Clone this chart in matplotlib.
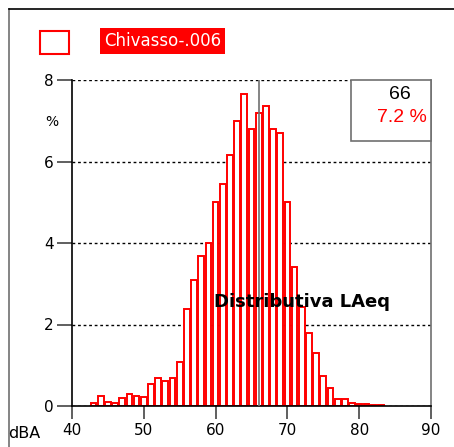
import matplotlib
matplotlib.use("Agg")
import matplotlib.pyplot as plt
from matplotlib.patches import Rectangle
from matplotlib.lines import Line2D
import numpy as np

# Distribution of LAeq levels (dBA class -> % of time)
levels = np.arange(43, 84)
percent = [
    0.07, 0.25, 0.09, 0.07, 0.19, 0.29, 0.25, 0.22,
    0.54, 0.69, 0.62, 0.69, 1.09, 2.37, 3.10, 3.67, 4.00,
    5.00, 5.45, 6.17, 6.99, 7.66, 6.80, 7.18, 7.37,
    6.80, 6.69, 5.00, 3.40, 2.42, 1.79, 1.30, 0.74, 0.45,
    0.16, 0.16, 0.08, 0.06, 0.04, 0.03, 0.03,
]
x_ticks = [40, 50, 60, 70, 80, 90]
y_ticks = [0, 2, 4, 6, 8]
cursor_level = 66
cursor_label = "7.2 %"
series_name = "Chivasso-.006"
title = "Distributiva LAeq"

W, H = 454, 447
fig = plt.figure(figsize=(W / 100, H / 100), dpi=100)

# outer frame (top and left only visible)
fig.add_artist(Line2D([9 / W, 9 / W], [0, 1 - 9 / H], color="#707070", lw=1.2))
fig.add_artist(Line2D([9 / W, 1], [1 - 9 / H, 1 - 9 / H], color="black", lw=1.2))

ax = fig.add_axes([72 / W, 41 / H, 359 / W, 326 / H])
ax.bar(levels, percent, width=0.8, facecolor="white", edgecolor="red",
       linewidth=1.4, zorder=3)

ax.set_xlim(40, 90)
ax.set_ylim(0, 8)
ax.set_xticks(x_ticks)
ax.set_yticks(y_ticks)
for y in y_ticks:
    ax.axhline(y, color="black", lw=1.0, ls=(0, (2, 2)), zorder=1)

ax.tick_params(axis="both", direction="out", width=1.2,
               color="#444444", labelsize=11)
ax.tick_params(axis="y", length=11, pad=2)
ax.tick_params(axis="x", length=9.5, pad=3)
for lab in ax.get_xticklabels() + ax.get_yticklabels():
    lab.set_family("DejaVu Sans")

ax.spines["top"].set_visible(False)
ax.spines["left"].set_color("black")
ax.spines["left"].set_linewidth(1.2)
ax.spines["bottom"].set_color("black")
ax.spines["bottom"].set_linewidth(1.2)
ax.spines["bottom"].set_zorder(4)
ax.spines["right"].set_color("#707070")
ax.spines["right"].set_linewidth(1.2)

# cursor line
ax.axvline(cursor_level, color="#707070", lw=1.2, zorder=5)

# cursor readout box
ax.add_patch(Rectangle((351 / W, 306 / H), 80 / W, 61 / H, transform=fig.transFigure,
                       facecolor="white", edgecolor="#707070", lw=1.2, zorder=6,
                       clip_on=False))
fig.text(400 / W, 1 - 94 / H, str(cursor_level), ha="center", va="center",
         fontsize=14, family="Liberation Sans", color="black", zorder=7)
fig.text(402 / W, 1 - 117 / H, cursor_label, ha="center", va="center",
         fontsize=14, family="Liberation Sans", color="red", zorder=7)

# axis captions
fig.text(52 / W, 1 - 122 / H, "%", ha="center", va="center", fontsize=10)
fig.text(8 / W, 1 - 433 / H, "dBA", ha="left", va="center", fontsize=11.5)

# legend
fig.add_artist(Rectangle((40 / W, 1 - 54 / H), 29 / W, 23 / H, transform=fig.transFigure,
                         facecolor="white", edgecolor="red", lw=1.5))
fig.text(104 / W, 1 - 41 / H, series_name, ha="left", va="center", fontsize=12,
         color="white", bbox=dict(boxstyle="square,pad=0.22", facecolor="red",
                                  edgecolor="none"))

ax.text(0.642, 0.32, title, transform=ax.transAxes, ha="center", va="center",
        fontsize=13, fontweight="bold", color="black", zorder=8)

fig.savefig("out.png", dpi=100)
